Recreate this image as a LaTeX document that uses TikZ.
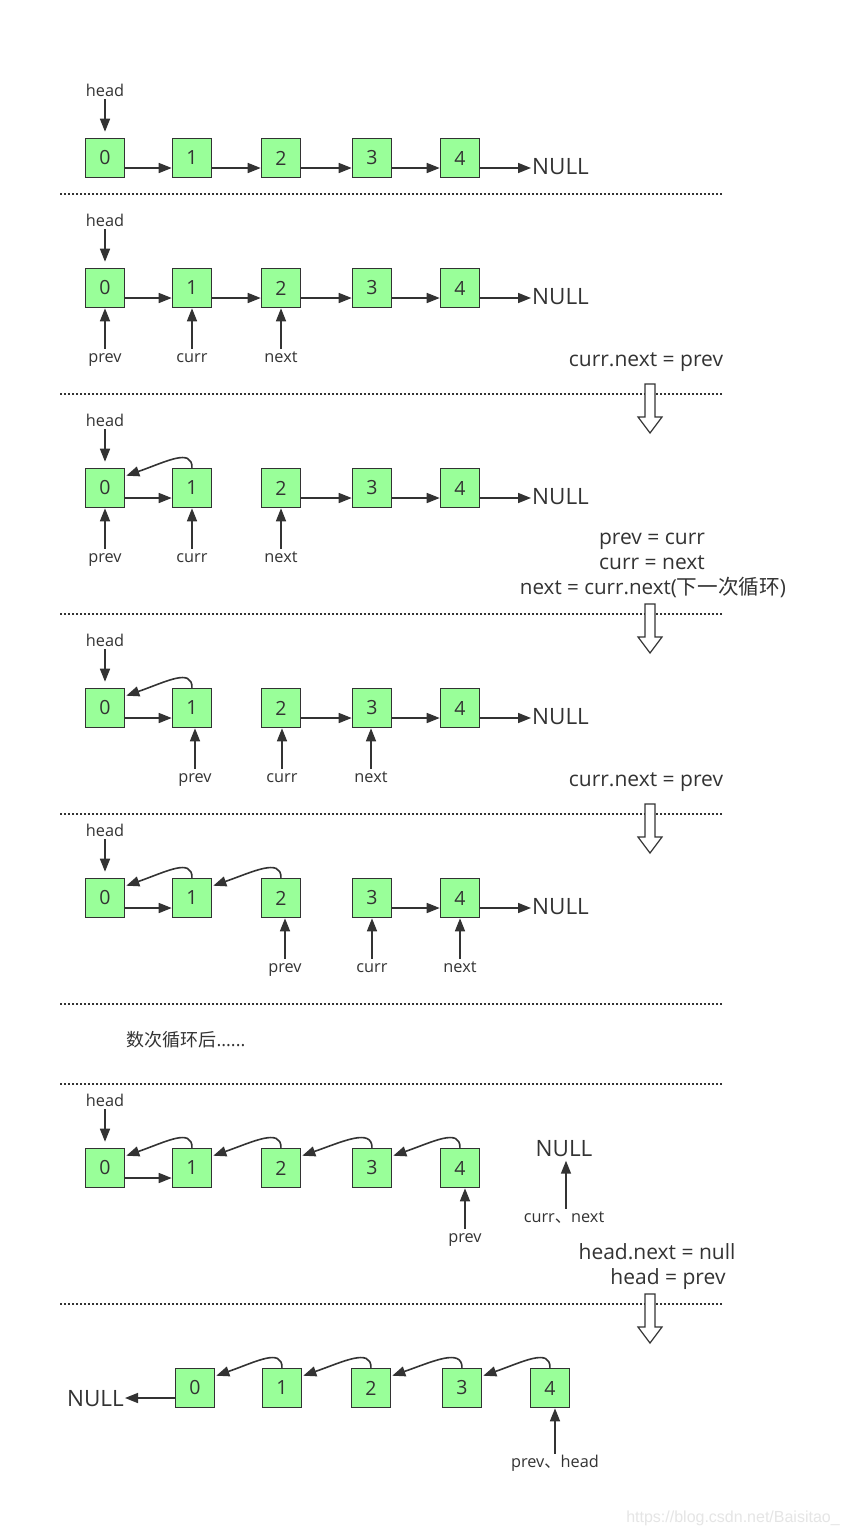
\documentclass[tikz,border=0pt]{standalone}
\usepackage{fontspec}
\setmainfont{Open Sans}
\newfontfamily\cjk{Noto Sans CJK SC}
\newfontfamily\wmfont{Liberation Sans}
\usetikzlibrary{arrows.meta,calc}
\definecolor{ink}{HTML}{333333}
\definecolor{boxgreen}{HTML}{99FF99}
\newcommand\backarc[2]{\draw[arr] (#1.north) .. controls +(0,-20) and +(40,-14) .. ([xshift=1pt,yshift=-8pt]#2.north east);}
\newcommand\hollowarrow[2]{\draw[hollow] (#1-5,#2) -- (#1+5,#2) -- (#1+5,#2+33) -- (#1+12,#2+33) -- (#1,#2+49) -- (#1-12,#2+33) -- (#1-5,#2+33) -- cycle;}
\begin{document}
\begin{tikzpicture}[x=1pt,y=-1pt,
  box/.style={draw=ink, fill=boxgreen, line width=1.6pt, minimum width=39pt, minimum height=39pt, inner sep=0pt, text=ink, font=\fontsize{19.5}{19.5}\selectfont},
  lbl/.style={text=ink, font=\fontsize{16.3}{17}\selectfont, inner sep=1pt, text height=12.5pt, text depth=2pt},
  big/.style={text=ink, font=\fontsize{21}{23}\selectfont, inner sep=1pt, text height=16pt, text depth=3pt},
  nul/.style={big, font=\fontsize{22.5}{24}\selectfont},
  arr/.style={draw=ink, line width=1.6pt, -{Triangle[length=13pt,width=10pt]}},
  sep/.style={draw=ink, line width=2pt, dash pattern=on 2pt off 2pt},
  hollow/.style={draw=ink, fill=white, line width=1.2pt, line join=miter},
]
\fill[white] (0,0) rectangle (853,1537);
\useasboundingbox (0,0) rectangle (853,1537);

% separators
\foreach \yy in {194,394,614,814,1004,1084,1304}
  \draw[sep] (60,\yy) -- (722,\yy);

% ---------- Row 1 ----------
\foreach \i/\x in {0/105,1/192,2/281,3/372,4/460} \node[box] (r1n\i) at (\x,158) {\i};
\node[lbl] (r1head) at (105,91) {head};
\draw[arr] (r1head.south) -- ([yshift=6pt]r1n0.north);
\node[nul, anchor=west] (r1null) at (531,168) {NULL};
\foreach \a/\b in {0/1,1/2,2/3,3/4} \draw[arr] ([yshift=-10pt]r1n\a.east) -- ([yshift=-10pt]r1n\b.west);
\draw[arr] ([yshift=-10pt]r1n4.east) -- ([yshift=-10pt]r1n4.east -| r1null.west);

% ---------- Row 2 ----------
\foreach \i/\x in {0/105,1/192,2/281,3/372,4/460} \node[box] (r2n\i) at (\x,288) {\i};
\node[lbl] (r2head) at (105,221) {head};
\draw[arr] (r2head.south) -- ([yshift=6pt]r2n0.north);
\node[nul, anchor=west] (r2null) at (531,298) {NULL};
\foreach \a/\b in {0/1,1/2,2/3,3/4} \draw[arr] ([yshift=-10pt]r2n\a.east) -- ([yshift=-10pt]r2n\b.west);
\draw[arr] ([yshift=-10pt]r2n4.east) -- ([yshift=-10pt]r2n4.east -| r2null.west);
\node[lbl] (r2prev) at (105,357) {prev};
\node[lbl] (r2curr) at (192,357) {curr};
\node[lbl] (r2next) at (281,357) {next};
\draw[arr] (r2prev.north) -- (r2prev.north |- r2n0.south);
\draw[arr] (r2curr.north) -- (r2curr.north |- r2n1.south);
\draw[arr] (r2next.north) -- (r2next.north |- r2n2.south);
\node[big] (r2txt) at (646,360) {curr.next = prev};

% ---------- Row 3 ----------
\foreach \i/\x in {0/105,1/192,2/281,3/372,4/460} \node[box] (r3n\i) at (\x,488) {\i};
\node[lbl] (r3head) at (105,421) {head};
\draw[arr] (r3head.south) -- ([yshift=6pt]r3n0.north);
\node[nul, anchor=west] (r3null) at (531,498) {NULL};
\foreach \a/\b in {0/1,2/3,3/4} \draw[arr] ([yshift=-10pt]r3n\a.east) -- ([yshift=-10pt]r3n\b.west);
\draw[arr] ([yshift=-10pt]r3n4.east) -- ([yshift=-10pt]r3n4.east -| r3null.west);
\backarc{r3n1}{r3n0}
\node[lbl] (r3prev) at (105,557) {prev};
\node[lbl] (r3curr) at (192,557) {curr};
\node[lbl] (r3next) at (281,557) {next};
\draw[arr] (r3prev.north) -- (r3prev.north |- r3n0.south);
\draw[arr] (r3curr.north) -- (r3curr.north |- r3n1.south);
\draw[arr] (r3next.north) -- (r3next.north |- r3n2.south);
\node[big] (r3t1) at (652,538) {prev = curr};
\node[big] (r3t2) at (652,563) {curr = next};
\node[big, font=\fontsize{20.6}{23}\selectfont] (r3t3) at (653,588) {next = curr.next({\cjk 下一次循环})};

% ---------- Row 4 ----------
\foreach \i/\x in {0/105,1/192,2/281,3/372,4/460} \node[box] (r4n\i) at (\x,708) {\i};
\node[lbl] (r4head) at (105,641) {head};
\draw[arr] (r4head.south) -- ([yshift=6pt]r4n0.north);
\node[nul, anchor=west] (r4null) at (531,718) {NULL};
\foreach \a/\b in {0/1,2/3,3/4} \draw[arr] ([yshift=-10pt]r4n\a.east) -- ([yshift=-10pt]r4n\b.west);
\draw[arr] ([yshift=-10pt]r4n4.east) -- ([yshift=-10pt]r4n4.east -| r4null.west);
\backarc{r4n1}{r4n0}
\node[lbl] (r4prev) at (195,777) {prev};
\node[lbl] (r4curr) at (282,777) {curr};
\node[lbl] (r4next) at (371,777) {next};
\draw[arr] (r4prev.north) -- (r4prev.north |- r4n1.south);
\draw[arr] (r4curr.north) -- (r4curr.north |- r4n2.south);
\draw[arr] (r4next.north) -- (r4next.north |- r4n3.south);
\node[big] (r4txt) at (646,780) {curr.next = prev};

% ---------- Row 5 ----------
\foreach \i/\x in {0/105,1/192,2/281,3/372,4/460} \node[box] (r5n\i) at (\x,898) {\i};
\node[lbl] (r5head) at (105,831) {head};
\draw[arr] (r5head.south) -- ([yshift=6pt]r5n0.north);
\node[nul, anchor=west] (r5null) at (531,908) {NULL};
\foreach \a/\b in {0/1,3/4} \draw[arr] ([yshift=-10pt]r5n\a.east) -- ([yshift=-10pt]r5n\b.west);
\draw[arr] ([yshift=-10pt]r5n4.east) -- ([yshift=-10pt]r5n4.east -| r5null.west);
\backarc{r5n1}{r5n0}
\backarc{r5n2}{r5n1}
\node[lbl] (r5prev) at (285,967) {prev};
\node[lbl] (r5curr) at (372,967) {curr};
\node[lbl] (r5next) at (460,967) {next};
\draw[arr] (r5prev.north) -- (r5prev.north |- r5n2.south);
\draw[arr] (r5curr.north) -- (r5curr.north |- r5n3.south);
\draw[arr] (r5next.north) -- (r5next.north |- r5n4.south);

\node[big, font=\fontsize{18}{20}\selectfont] (loops) at (186,1040) {{\cjk 数次循环后}......};

% ---------- Row 6 ----------
\foreach \i/\x in {0/105,1/192,2/281,3/372,4/460} \node[box] (r6n\i) at (\x,1168) {\i};
\node[lbl] (r6head) at (105,1101) {head};
\draw[arr] (r6head.south) -- ([yshift=6pt]r6n0.north);
\draw[arr] ([yshift=-10pt]r6n0.east) -- ([yshift=-10pt]r6n1.west);
\backarc{r6n1}{r6n0}
\backarc{r6n2}{r6n1}
\backarc{r6n3}{r6n2}
\backarc{r6n4}{r6n3}
\node[nul] (r6null) at (564,1150) {NULL};
\node[lbl] (r6cn) at (564,1217) {curr{\cjk 、}next};
\draw[arr] ([xshift=2pt]r6cn.north) -- ([xshift=2pt]r6null.south);
\node[lbl] (r6prev) at (465,1237) {prev};
\draw[arr] (r6prev.north) -- (r6prev.north |- r6n4.south);
\node[big] (r6t1) at (657,1253) {head.next = null};
\node[big] (r6t2) at (668,1278) {head = prev};

% ---------- Row 7 ----------
\foreach \i/\x in {0/195,1/282,2/371,3/462,4/550} \node[box] (r7n\i) at (\x,1388) {\i};
\backarc{r7n1}{r7n0}
\backarc{r7n2}{r7n1}
\backarc{r7n3}{r7n2}
\backarc{r7n4}{r7n3}
\node[nul, anchor=east] (r7null) at (125,1400) {NULL};
\draw[arr] ([yshift=-10pt]r7n0.west) -- ([yshift=-10pt]r7n0.west -| r7null.east);
\node[lbl] (r7ph) at (555,1462) {prev{\cjk 、}head};
\draw[arr] (r7ph.north) -- (r7ph.north |- r7n4.south);

% hollow arrows
\hollowarrow{650}{384}
\hollowarrow{650}{604}
\hollowarrow{650}{804}
\hollowarrow{650}{1294}

% watermark
\node[text=black!10, font=\wmfont\fontsize{16}{16}\selectfont] (wm) at (733,1518) {https://blog.csdn.net/Baisitao\_};
\end{tikzpicture}
\end{document}
